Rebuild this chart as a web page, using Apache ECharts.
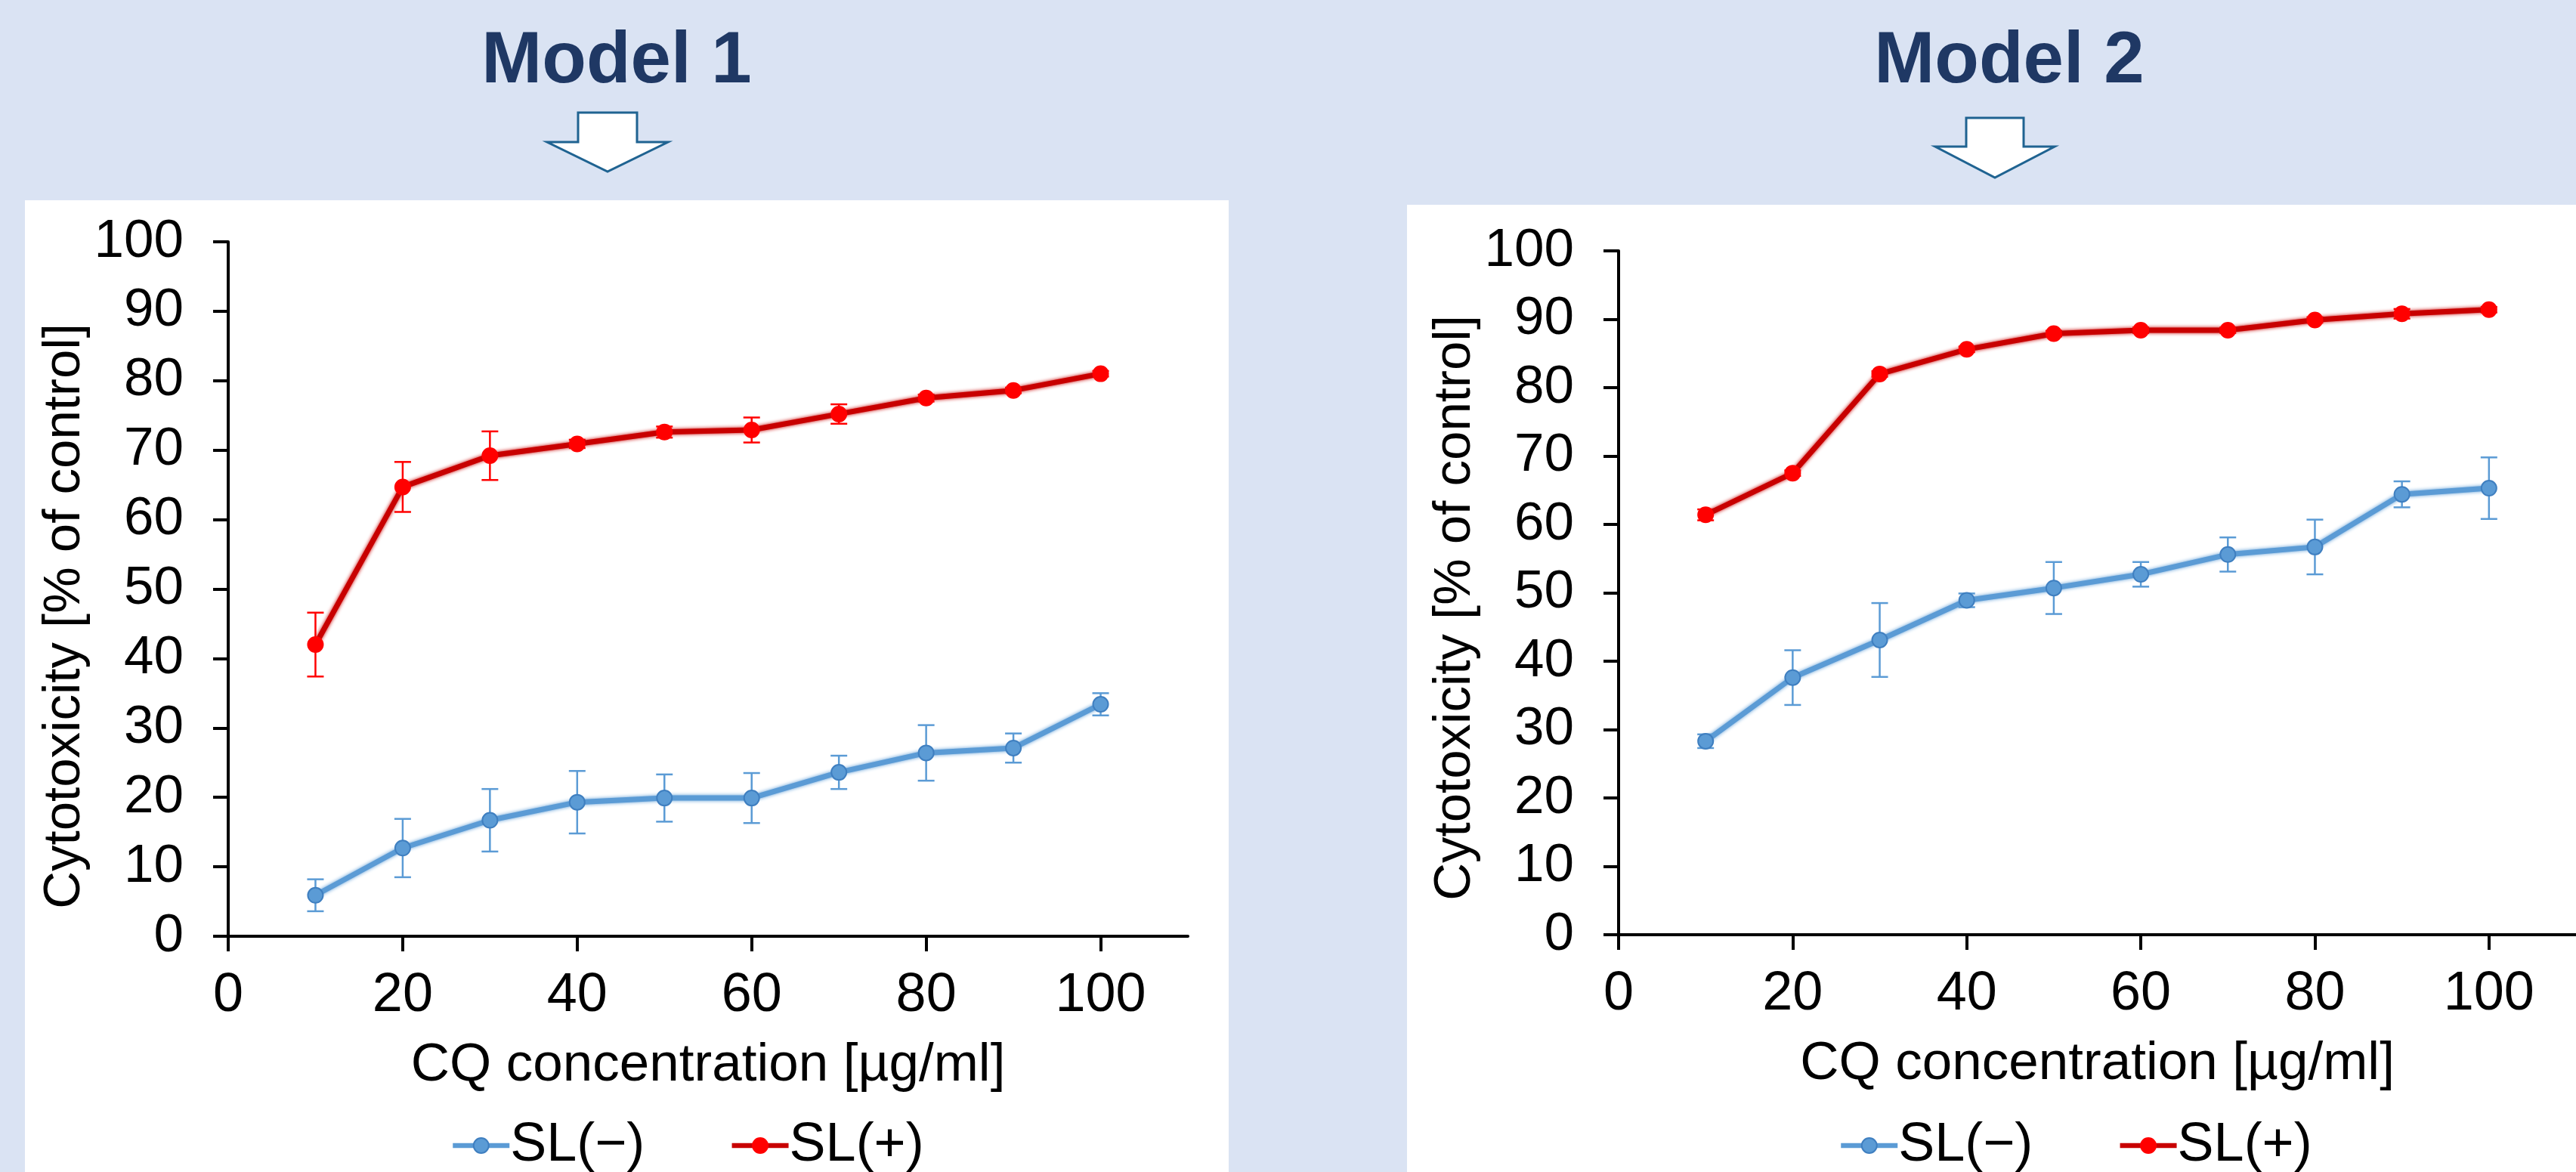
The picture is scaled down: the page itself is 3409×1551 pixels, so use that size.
<!DOCTYPE html>
<html>
<head>
    <meta charset="utf-8">
    <title>CQ cytotoxicity - Model 1 / Model 2</title>
    <script src="https://cdn.jsdelivr.net/npm/echarts@6/dist/echarts.min.js"></script>
    <style>
        html, body { margin: 0; padding: 0; background: #DAE3F3; }
        #main { width: 3409px; height: 1551px; }
    </style>
</head>
<body>
<div id="main"></div>
<script>
    // concentrations (µg/ml) and tick labels
    var conc = [10, 20, 30, 40, 50, 60, 70, 80, 90, 100];
    var xTicks = [0, 20, 40, 60, 80, 100];

    // Model 1
    var m1Minus = [5.9, 12.7, 16.7, 19.3, 19.9, 19.9, 23.6, 26.4, 27.1, 33.4];
    var m1MinusErr = [2.3, 4.2, 4.5, 4.5, 3.4, 3.6, 2.4, 4.0, 2.1, 1.6];
    var m1Plus = [42.0, 64.7, 69.2, 70.9, 72.6, 72.9, 75.2, 77.5, 78.6, 81.0];
    var m1PlusErr = [4.6, 3.6, 3.5, 0.6, 0.8, 1.8, 1.4, 0.5, 0.4, 0.4];

    // Model 2
    var m2Minus = [28.3, 37.6, 43.1, 48.9, 50.7, 52.7, 55.6, 56.7, 64.4, 65.3];
    var m2MinusErr = [1.0, 4.0, 5.4, 1.0, 3.8, 1.8, 2.5, 4.0, 1.9, 4.5];
    var m2Plus = [61.4, 67.5, 82.0, 85.6, 87.9, 88.4, 88.4, 89.9, 90.8, 91.4];
    var m2PlusErr = [0.8, 0.4, 0.4, 0.4, 0.4, 0.4, 0.4, 0.4, 0.7, 0.4];

    var FONT = "'Liberation Sans', Arial, sans-serif";
    var BLUE = '#5B9BD5', RED_LINE = '#C80000', RED_DOT = '#FF0000';

    var myChart = echarts.init(document.getElementById('main'), null, {renderer: 'canvas'});

    function pairs(ys) {
        var out = [];
        for (var i = 0; i < conc.length; i++) out.push([conc[i], ys[i]]);
        return out;
    }

    // error bars: [x, low, high]
    function errData(ys, es) {
        var out = [];
        for (var i = 0; i < conc.length; i++) out.push([conc[i], ys[i] - es[i], ys[i] + es[i]]);
        return out;
    }

    function errSeries(name, idx, ys, es, color) {
        return {
            name: name,
            type: 'custom',
            xAxisIndex: idx,
            yAxisIndex: idx,
            z: 3,
            encode: {x: 0, y: [1, 2]},
            data: errData(ys, es),
            renderItem: function (params, api) {
                var top = api.coord([api.value(0), api.value(2)]);
                var bot = api.coord([api.value(0), api.value(1)]);
                var w = 11;
                var st = {stroke: color, lineWidth: 2.5};
                return {
                    type: 'group',
                    children: [
                        {type: 'line', shape: {x1: top[0], y1: top[1], x2: bot[0], y2: bot[1]}, style: st},
                        {type: 'line', shape: {x1: top[0] - w, y1: top[1], x2: top[0] + w, y2: top[1]}, style: st},
                        {type: 'line', shape: {x1: bot[0] - w, y1: bot[1], x2: bot[0] + w, y2: bot[1]}, style: st}
                    ]
                };
            }
        };
    }

    function lineSeries(name, idx, ys, lineColor, dotColor, dotBorder) {
        return {
            name: name,
            type: 'line',
            xAxisIndex: idx,
            yAxisIndex: idx,
            data: pairs(ys),
            symbol: 'circle',
            symbolSize: 20,
            z: 4,
            lineStyle: {color: lineColor, width: 7, shadowBlur: 5, shadowColor: lineColor},
            itemStyle: {color: dotColor, borderColor: dotBorder, borderWidth: 2},
            emphasis: {disabled: true}
        };
    }

    function xAxisFor(idx, gap) {
        return {
            type: 'value', gridIndex: idx, min: 0, max: 110, interval: 20,
            name: 'CQ concentration [µg/ml]',
            nameLocation: 'middle', nameGap: gap,
            nameTextStyle: {fontFamily: FONT, fontSize: 71, color: '#000'},
            axisLine: {lineStyle: {color: '#000', width: 4}},
            axisTick: {length: 20, lineStyle: {color: '#000', width: 4}, customValues: xTicks},
            axisLabel: {fontFamily: FONT, fontSize: 72, color: '#000', margin: 43, customValues: xTicks},
            splitLine: {show: false}
        };
    }

    function yAxisFor(idx, gap, shift) {
        return {
            type: 'value', gridIndex: idx, min: 0, max: 100, interval: 10,
            name: 'Cytotoxicity [% of control]',
            nameLocation: 'middle', nameGap: gap, nameRotate: 90,
            nameTextStyle: {fontFamily: FONT, fontSize: 69, color: '#000', padding: [0, shift, 0, 0]},
            axisLine: {show: true, lineStyle: {color: '#000', width: 4}},
            axisTick: {show: true, length: 20, lineStyle: {color: '#000', width: 4}},
            axisLabel: {fontFamily: FONT, fontSize: 71, color: '#000', margin: 59},
            splitLine: {show: false}
        };
    }

    function legendFor(left) {
        return {
            left: left, top: 1475,
            itemWidth: 75, itemHeight: 25, itemGap: 112,
            data: ['SL(−)', 'SL(+)'],
            lineStyle: {width: 6.5, shadowBlur: 0},
            textStyle: {fontFamily: FONT, fontSize: 72, color: '#000', padding: [0, 0, 0, -4]},
            selectedMode: false
        };
    }

    function arrow(cx, top, shoulder, tip, stemHalf, wingHalf) {
        return {
            type: 'polygon',
            shape: {
                points: [
                    [cx - stemHalf, top], [cx + stemHalf, top], [cx + stemHalf, shoulder],
                    [cx + wingHalf, shoulder], [cx, tip], [cx - wingHalf, shoulder],
                    [cx - stemHalf, shoulder]
                ]
            },
            style: {fill: '#FFFFFF', stroke: '#1F6391', lineWidth: 3}
        };
    }

    var option = {
        backgroundColor: '#DAE3F3',
        animation: false,
        graphic: [
            {type: 'rect', z: -10, shape: {x: 33, y: 265, width: 1593, height: 1300}, style: {fill: '#FFFFFF'}},
            {type: 'rect', z: -10, shape: {x: 1862, y: 271, width: 1560, height: 1300}, style: {fill: '#FFFFFF'}},
            {type: 'text', x: 816, y: 83, style: {text: 'Model 1', fontFamily: FONT, fontWeight: 'bold', fontSize: 96, fill: '#1F3864', align: 'center', verticalAlign: 'middle'}},
            {type: 'text', x: 2659, y: 83, style: {text: 'Model 2', fontFamily: FONT, fontWeight: 'bold', fontSize: 96, fill: '#1F3864', align: 'center', verticalAlign: 'middle'}},
            arrow(804, 149, 188, 227, 39, 80),
            arrow(2640, 156, 194, 235, 38, 79)
        ],
        grid: [
            {left: 302, top: 320, width: 1270, height: 919},
            {left: 2142, top: 332, width: 1270, height: 905}
        ],
        legend: [legendFor(591), legendFor(2428)],
        xAxis: [xAxisFor(0, 136), xAxisFor(1, 136)],
        yAxis: [yAxisFor(0, 137, 72), yAxisFor(1, 164, 40)],
        series: [
            errSeries('err1m', 0, m1Minus, m1MinusErr, BLUE),
            errSeries('err1p', 0, m1Plus, m1PlusErr, RED_DOT),
            lineSeries('SL(−)', 0, m1Minus, BLUE, BLUE, '#3F7FC0'),
            lineSeries('SL(+)', 0, m1Plus, RED_LINE, RED_DOT, RED_DOT),
            errSeries('err2m', 1, m2Minus, m2MinusErr, BLUE),
            errSeries('err2p', 1, m2Plus, m2PlusErr, RED_DOT),
            lineSeries('SL(−)', 1, m2Minus, BLUE, BLUE, '#3F7FC0'),
            lineSeries('SL(+)', 1, m2Plus, RED_LINE, RED_DOT, RED_DOT)
        ]
    };

    myChart.setOption(option);
</script>
</body>
</html>
